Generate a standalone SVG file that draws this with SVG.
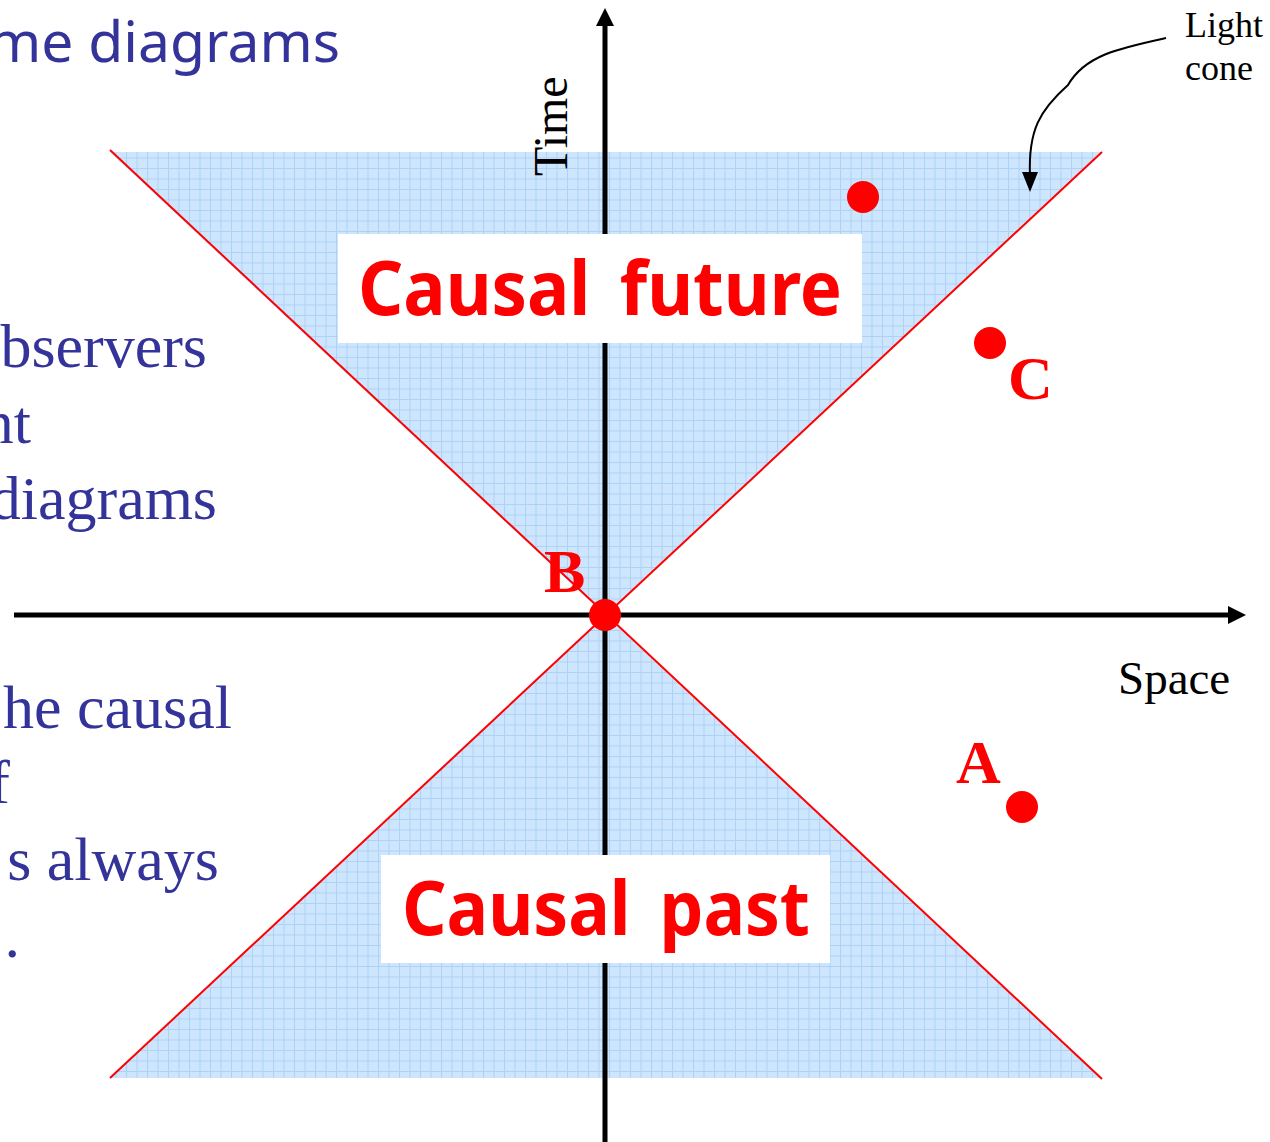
<svg xmlns="http://www.w3.org/2000/svg" width="1270" height="1142" viewBox="0 0 1270 1142">
<style>
.side{font-family:"Liberation Serif","Times New Roman",serif;font-size:62px;fill:#333399}
.lbl{font-family:"Liberation Serif","Times New Roman",serif;fill:#000}
.pt{font-family:"Liberation Serif","Times New Roman",serif;font-weight:bold;fill:#ff0000;font-size:62px}
.big{font-family:"Comic Sans MS","Noto Sans","DejaVu Sans",sans-serif;font-weight:bold;fill:#ff0000;font-size:76px;word-spacing:12px}
.ray{stroke:#ff0000;stroke-width:2;fill:none}
.axis{stroke:#000;stroke-width:5;fill:none}
.dot{fill:#ff0000}
</style>
<defs>
<pattern id="grid" width="10.5" height="10.5" patternUnits="userSpaceOnUse">
<rect width="10.5" height="10.5" fill="#cde6fd"/>
<path d="M0,0.5H10.5M0.5,0V10.5" stroke="#acd2f6" stroke-width="1"/>
</pattern>
</defs>
<rect width="1270" height="1142" fill="#fff"/>
<g id="title"><text x="340" y="62" text-anchor="end" textLength="352" lengthAdjust="spacingAndGlyphs" style="font-family:'Comic Sans MS','Noto Sans','DejaVu Sans',sans-serif;font-size:56px;fill:#333399">me diagrams</text></g>
<g id="side-text">
<text class="side" x="207" y="367" text-anchor="end">bservers</text>
<text class="side" x="31" y="443" text-anchor="end">nt</text>
<text class="side" x="217" y="519" text-anchor="end">diagrams</text>
<text class="side" x="232" y="728" text-anchor="end">he causal</text>
<text class="side" x="10" y="803" text-anchor="end">f</text>
<text class="side" x="219" y="880" text-anchor="end">s always</text>
<text class="side" x="20" y="957" text-anchor="end">.</text>
</g>
<g id="future-cone"><polygon points="110,152 1102,152 605,615" fill="url(#grid)"/></g>
<g id="past-cone"><polygon points="605,615 1102,1078 110,1078" fill="url(#grid)"/></g>
<g id="connectors">
<line class="ray" x1="110" y1="150" x2="1102" y2="1079"/>
<line class="ray" x1="1102" y1="152" x2="110" y2="1078"/>
<line class="axis" x1="605" y1="1142" x2="605" y2="24"/>
<polygon points="605,8 596,26 614,26" fill="#000"/>
<line class="axis" x1="14" y1="615" x2="1230" y2="615"/>
<polygon points="1246,615 1228,606 1228,624" fill="#000"/>
<path d="M1166,38 C1120,48 1085,55 1068,85 C1040,110 1028,130 1030,176" stroke="#000" stroke-width="2" fill="none"/>
<polygon points="1030,192 1022,172 1038,172" fill="#000"/>
</g>
<g id="axis-labels">
<text class="lbl" font-size="48" transform="translate(567,176) rotate(-90)">Time</text>
<text class="lbl" font-size="47" x="1118" y="694">Space</text>
<text class="lbl" font-size="36" x="1185" y="37">Light</text>
<text class="lbl" font-size="36" x="1185" y="80">cone</text>
</g>
<g id="future-label">
<rect x="338" y="234" width="524" height="109" fill="#fff"/>
<text class="big" x="358" y="315" textLength="484" lengthAdjust="spacingAndGlyphs">Causal future</text>
</g>
<g id="past-label">
<rect x="381" y="855" width="449" height="108" fill="#fff"/>
<text class="big" x="402" y="935" textLength="408" lengthAdjust="spacingAndGlyphs">Causal past</text>
</g>
<g id="event-top"><circle class="dot" cx="863" cy="197" r="16"/></g>
<g id="event-C"><circle class="dot" cx="990" cy="343" r="16"/><text class="pt" x="1008" y="399">C</text></g>
<g id="event-A"><circle class="dot" cx="1022" cy="807" r="16"/><text class="pt" x="956" y="783">A</text></g>
<g id="event-B"><circle class="dot" cx="605" cy="615" r="16"/><text class="pt" x="544" y="592">B</text></g>
</svg>
